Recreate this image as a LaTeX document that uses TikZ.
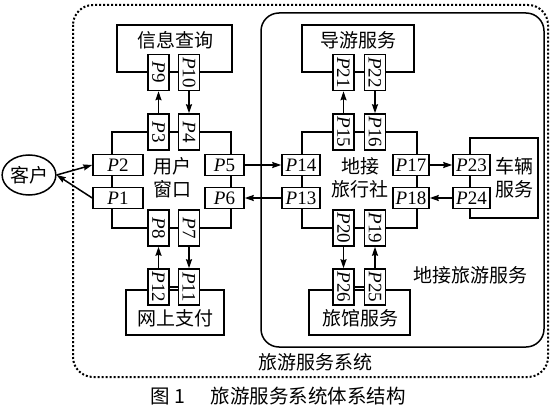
\documentclass[tikz,border=0pt]{standalone}
\usepackage{fontspec}
\setmainfont{Liberation Serif}
\newfontfamily\cjk{Noto Sans CJK SC}
\usetikzlibrary{arrows.meta,shapes.geometric}
\newcommand{\hp}[1]{\textit{P}#1}
\newcommand{\vp}[1]{\rotatebox{-90}{\textit{P}#1}}
\begin{document}
\begin{tikzpicture}[x=1pt,y=-1pt,line width=1.5pt,
  port/.style={draw,fill=white,inner sep=0pt,minimum height=21pt,font=\fontsize{19}{19}\selectfont},
  vport/.style={draw,fill=white,inner sep=0pt,minimum width=21pt,minimum height=36pt,font=\fontsize{19}{19}\selectfont},
  svcbox/.style={draw,inner sep=0pt},
  txt/.style={align=center,inner sep=0pt,font=\cjk\fontsize{19}{23}\selectfont},
  flow/.style={-{Stealth[length=9pt,width=6pt,inset=1pt]}}]
\useasboundingbox (0,0) rectangle (556,414);
\draw[line width=2pt,dash pattern=on 2pt off 2pt,rounded corners=20pt] (73,5) rectangle (548,377);
\draw[rounded corners=18pt] (261,13) rectangle (544,347);
\node[txt] (system) at (315,362) {旅游服务系统};
\node[txt] (local) at (470,275) {地接旅游服务};
\node[txt,font=\cjk\fontsize{19.5}{23}\selectfont] (caption) at (278,396) {图~1\hspace{1.3em}旅游服务系统体系结构};
\node[ellipse,draw,inner sep=0pt,minimum width=51pt,minimum height=40pt,font=\cjk\fontsize{19}{23}\selectfont] (client) at (29,175) {客户};
% service boxes
\node[svcbox,minimum width=115pt,minimum height=47pt] (info) at (174.5,48.5) {};
\node[txt] (infot) at (175,40) {信息查询};
\node[svcbox,minimum width=98pt,minimum height=45pt] (pay) at (175,312.5) {};
\node[txt] (payt) at (175,318) {网上支付};
\node[svcbox,minimum width=112pt,minimum height=47pt] (guide) at (358,48.5) {};
\node[txt] (guidet) at (358,40) {导游服务};
\node[svcbox,minimum width=101pt,minimum height=45pt] (hotel) at (359.5,312.5) {};
\node[txt] (hotelt) at (360,318) {旅馆服务};
\node[svcbox,minimum width=68pt,minimum height=80pt] (car) at (504,178) {};
\node[txt] (cart) at (514,177.5) {车辆\\服务};
\node[txt] (windowt) at (172,178) {用户\\窗口};
\node[txt] (agencyt) at (360,178) {地接\\旅行社};
% ports
\node[port,minimum width=50pt] (p2) at (118,165) {\hp{2}};
\node[port,minimum width=50pt] (p1) at (118,198) {\hp{1}};
\node[port,minimum width=39pt] (p5) at (224.5,165) {\hp{5}};
\node[port,minimum width=39pt] (p6) at (224.5,198) {\hp{6}};
\node[vport] (p9) at (158.5,72.5) {\vp{9}};
\node[vport] (p10) at (189,72.5) {\vp{10}};
\node[vport] (p3) at (158.5,132) {\vp{3}};
\node[vport] (p4) at (189,132) {\vp{4}};
\node[vport] (p8) at (158.5,228) {\vp{8}};
\node[vport] (p7) at (189,228) {\vp{7}};
\node[vport] (p12) at (158.5,287) {\vp{12}};
\node[vport] (p11) at (189,287) {\vp{11}};
\node[port,minimum width=38pt] (p14) at (301,165) {\hp{14}};
\node[port,minimum width=38pt] (p13) at (301,198) {\hp{13}};
\node[port,minimum width=36pt] (p17) at (411,165) {\hp{17}};
\node[port,minimum width=36pt] (p18) at (411,198) {\hp{18}};
\node[port,minimum width=37pt] (p23) at (471.5,165) {\hp{23}};
\node[port,minimum width=37pt] (p24) at (471.5,198) {\hp{24}};
\node[vport] (p21) at (343.5,72.5) {\vp{21}};
\node[vport] (p22) at (375,72.5) {\vp{22}};
\node[vport] (p15) at (343.5,132) {\vp{15}};
\node[vport] (p16) at (375,132) {\vp{16}};
\node[vport] (p20) at (343.5,228) {\vp{20}};
\node[vport] (p19) at (375,228) {\vp{19}};
\node[vport] (p26) at (343.5,287) {\vp{26}};
\node[vport] (p25) at (375,287) {\vp{25}};
% inner wiring
\coordinate (a1) at (112,132);
\coordinate (a2) at (231,132);
\coordinate (b1) at (112,228);
\coordinate (b2) at (231,228);
\coordinate (c1) at (302,132);
\coordinate (c2) at (417,132);
\coordinate (d1) at (302,228);
\coordinate (d2) at (417,228);
\draw (p2.north -| a1) -- (a1) -- (p3.west);
\draw (p3.east) -- (p4.west);
\draw (p4.east) -- (a2) -- (p5.north -| a2);
\draw (p2.south -| a1) -- (p1.north -| a1);
\draw (p5.south -| a2) -- (p6.north -| a2);
\draw (p1.south -| a1) -- (b1) -- (p8.west);
\draw (p8.east) -- (p7.west);
\draw (p7.east) -- (b2) -- (p6.south -| a2);
\draw (p14.north -| c1) -- (c1) -- (p15.west);
\draw (p15.east) -- (p16.west);
\draw (p16.east) -- (c2) -- (p17.north -| c2);
\draw (p14.south -| c1) -- (p13.north -| c1);
\draw (p17.south -| c2) -- (p18.north -| c2);
\draw (p13.south -| d1) -- (d1) -- (p20.west);
\draw (p20.east) -- (p19.west);
\draw (p19.east) -- (d2) -- (p18.south -| d2);
\draw (p9.east) -- (p10.west);
\draw (p12.east) -- (p11.west);
\draw (p21.east) -- (p22.west);
\draw (p26.east) -- (p25.west);
% messages
\draw[flow] (client.east) -- (p2.west);
\draw[flow] (p1.west) -- (client.east);
\draw[flow] (p3) -- (p9);
\draw[flow] (p10) -- (p4);
\draw[flow] (p12) -- (p8);
\draw[flow] (p7) -- (p11);
\draw[flow] (p5) -- (p14);
\draw[flow] (p13) -- (p6);
\draw[flow] (p15) -- (p21);
\draw[flow] (p22) -- (p16);
\draw[flow] (p20) -- (p26);
\draw[flow] (p25) -- (p19);
\draw[flow] (p17) -- (p23);
\draw[flow] (p24) -- (p18);
\end{tikzpicture}
\end{document}
